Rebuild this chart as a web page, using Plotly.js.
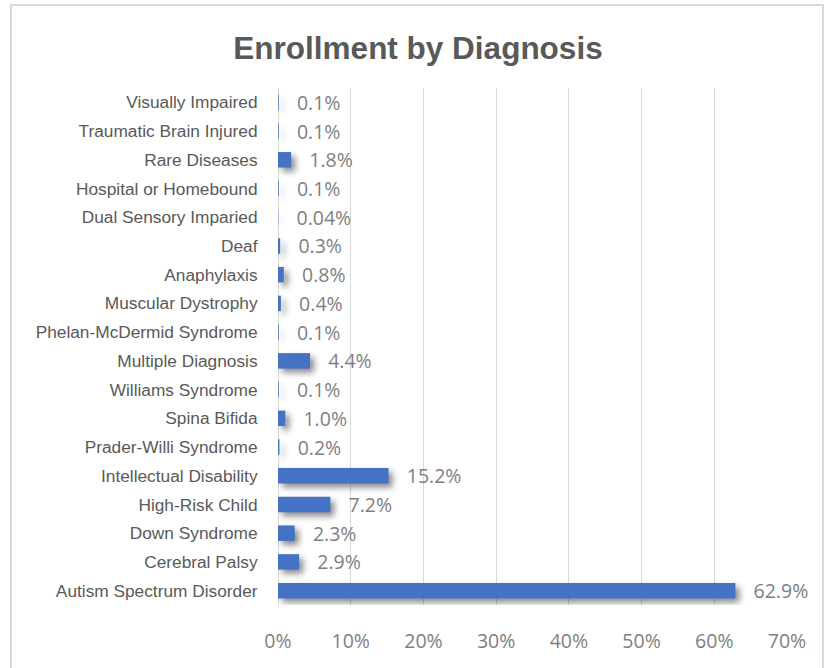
<!DOCTYPE html>
<html>
<head>
<meta charset="utf-8">
<script src="https://cdn.plot.ly/plotly-3.0.1.min.js"></script>
<style>
  html, body { margin: 0; padding: 0; background: #fff; }
  #wrap { position: relative; width: 830px; height: 668px; overflow: hidden; }
  #chart { position: absolute; left: 0; top: 0; width: 830px; height: 668px; }
  #frame { position: absolute; left: 10px; top: 4px; width: 814px; height: 700px;
           border: 2px solid #d9d9d9; box-sizing: border-box; pointer-events: none; }
</style>
</head>
<body>
<div id="wrap">
  <div id="chart"></div>
  <div id="frame"></div>
</div>
<script>
// Categories listed bottom to top
const categories = [
  'Autism Spectrum Disorder',
  'Cerebral Palsy',
  'Down Syndrome',
  'High-Risk Child',
  'Intellectual Disability',
  'Prader-Willi Syndrome',
  'Spina Bifida',
  'Williams Syndrome',
  'Multiple Diagnosis',
  'Phelan-McDermid Syndrome',
  'Muscular Dystrophy',
  'Anaphylaxis',
  'Deaf',
  'Dual Sensory Imparied',
  'Hospital or Homebound',
  'Rare Diseases',
  'Traumatic Brain Injured',
  'Visually Impaired'
];
// Enrollment share, percent
const percentages = [62.9, 2.9, 2.3, 7.2, 15.2, 0.2, 1.0, 0.1, 4.4, 0.1, 0.4, 0.8, 0.3, 0.04, 0.1, 1.8, 0.1, 0.1];
const tickValues = [0, 10, 20, 30, 40, 50, 60, 70];

const dataLabels = percentages.map(v => '   ' + (v < 0.1 ? v.toFixed(2) : v.toFixed(1)) + '%');

const trace = {
  type: 'bar',
  orientation: 'h',
  x: percentages,
  y: categories,
  marker: { color: '#4472C4', line: { width: 0 } },
  text: dataLabels,
  textposition: 'outside',
  constraintext: 'none',
  cliponaxis: false,
  textfont: { family: 'Open Sans, Noto Sans, sans-serif', size: 19.5, color: '#7f7f7f' },
  hoverinfo: 'x+y'
};

const layout = {
  width: 830,
  height: 668,
  margin: { l: 278, r: 43, t: 88, b: 63 },
  paper_bgcolor: '#ffffff',
  plot_bgcolor: '#ffffff',
  bargap: 0.46,
  showlegend: false,
  title: {
    text: '<b>Enrollment by Diagnosis</b>',
    font: { family: 'Liberation Sans, Arial, sans-serif', size: 31.5, color: '#595959' },
    x: 418 / 830, xref: 'container', xanchor: 'center',
    y: 1 - 48 / 668, yref: 'container', yanchor: 'middle'
  },
  xaxis: {
    range: [0, 70],
    tickvals: tickValues,
    ticktext: tickValues.map(v => v + '%'),
    showgrid: true,
    gridcolor: '#d9d9d9',
    gridwidth: 1,
    zeroline: true,
    zerolinecolor: '#d9d9d9',
    zerolinewidth: 1,
    showline: false,
    ticks: 'outside',
    ticklen: 19,
    tickcolor: 'rgba(0,0,0,0)',
    tickfont: { family: 'Open Sans, Noto Sans, sans-serif', size: 19.5, color: '#7f7f7f' },
    fixedrange: true
  },
  yaxis: {
    type: 'category',
    categoryorder: 'array',
    categoryarray: categories,
    showgrid: false,
    zeroline: false,
    showline: false,
    ticks: 'outside',
    ticklen: 16,
    tickcolor: 'rgba(0,0,0,0)',
    tickfont: { family: 'Liberation Sans, Arial, sans-serif', size: 17.3, color: '#595959' },
    automargin: false,
    fixedrange: true
  }
};

Plotly.newPlot('chart', [trace], layout, { displayModeBar: false, staticPlot: true }).then(() => {
  document.querySelectorAll('#chart .bars .point path').forEach(p => {
    p.style.filter = 'drop-shadow(4px 4px 3px rgba(0,0,0,0.45))';
  });
});
</script>
</body>
</html>
